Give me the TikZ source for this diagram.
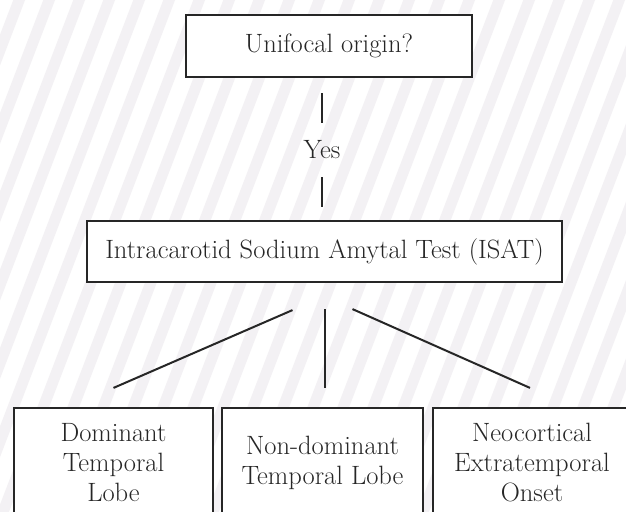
\documentclass[tikz,border=0pt]{standalone}
\usetikzlibrary{calc}
\definecolor{ink}{HTML}{262626}
\definecolor{stripecol}{HTML}{F3F1F4}
\begin{document}
\begin{tikzpicture}[x=1pt,y=-1pt,
  box/.style={draw=ink, line width=2.2pt, fill=white, inner sep=0pt,
    align=center, text=ink, font=\fontsize{26.5}{30}\selectfont},
  label/.style={inner sep=0pt, minimum height=24pt, text=ink,
    font=\fontsize{26.5}{30}\selectfont},
  link/.style={draw=ink, line width=2pt},
  stripe/.style={draw=stripecol, line width=11pt}]
\useasboundingbox (0,0) rectangle (626,511);
\clip (0,0) rectangle (626,511);
\fill[white] (0,0) rectangle (626,511);
% faint diagonal hatching behind the chart
\foreach \x in {-240,-210,...,650}
  \draw[stripe] (\x,520) -- ++(203,-530);

% boxes
\node[box, minimum width=286pt, minimum height=62pt] (top) at (329,46) {Unifocal origin?};
\node[label] (yes) at (322,150) {Yes};
\node[box, minimum width=475pt, minimum height=61pt] (isat) at (324.5,251.5)
  {Intracarotid Sodium Amytal Test (ISAT)};
\node[box, minimum width=199pt, minimum height=110pt] (b1) at (113.5,463)
  {Dominant\\Temporal\\Lobe};
\node[box, minimum width=201pt, minimum height=110pt] (b2) at (322.5,463)
  {Non-dominant\\Temporal Lobe};
\node[box, minimum width=198pt, minimum height=110pt] (b3) at (532,463)
  {Neocortical\\Extratemporal\\Onset};

% connectors
\draw[link, shorten <=15pt, shorten >=15pt] (top.south -| yes) -- (yes.north);
\draw[link, shorten <=15pt, shorten >=13pt] (yes.south) -- (yes.south |- isat.north);
\draw[link] ($(isat.south)+(-32,27)$) -- ($(b1.north)+(0,-19)$);
\draw[link] ($(isat.south)+(0.5,26)$) -- ($(isat.south |- b2.north)+(0.5,-19)$);
\draw[link] ($(isat.south)+(28,26)$) -- ($(b3.north)+(-2,-19)$);
\end{tikzpicture}
\end{document}
